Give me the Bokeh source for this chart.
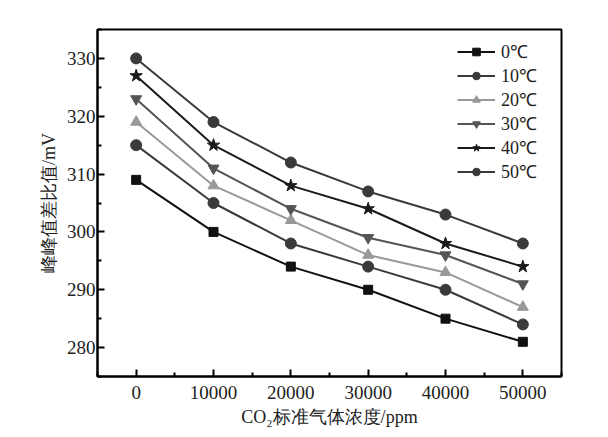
from bokeh.embed import file_html
from bokeh.models import Legend, Range1d, FixedTicker
from bokeh.plotting import figure
from bokeh.resources import INLINE

# CO2 concentration (ppm)
conc = [0, 10000, 20000, 30000, 40000, 50000]

# peak-to-peak ratio (mV) per temperature
t0 = [309, 300, 294, 290, 285, 281]
t10 = [315, 305, 298, 294, 290, 284]
t20 = [319, 308, 302, 296, 293, 287]
t30 = [323, 311, 304, 299, 296, 291]
t40 = [327, 315, 308, 304, 298, 294]
t50 = [330, 319, 312, 307, 303, 298]

labels = ["0℃", "10℃", "20℃", "30℃", "40℃", "50℃"]

serif = "Liberation Serif"

p = figure(width=600, height=429, output_backend="svg", toolbar_location=None,
           x_range=Range1d(-5000, 55000), y_range=Range1d(275, 335),
           min_border_left=97, min_border_right=39, min_border_top=29, min_border_bottom=52)

p.grid.visible = False
p.outline_line_color = "black"
p.outline_line_width = 2
p.background_fill_color = "white"
p.border_fill_color = "white"

p.xaxis.ticker = FixedTicker(ticks=conc, minor_ticks=[-5000, 5000, 15000, 25000, 35000, 45000, 55000])
p.yaxis.ticker = FixedTicker(ticks=[280, 290, 300, 310, 320, 330],
                             minor_ticks=[275, 285, 295, 305, 315, 325, 335])

for ax in (p.xaxis, p.yaxis):
    ax.axis_line_width = 2
    ax.major_tick_in = 7
    ax.major_tick_out = 0
    ax.minor_tick_in = 4
    ax.minor_tick_out = 0
    ax.major_tick_line_width = 2
    ax.minor_tick_line_width = 2
    ax.major_label_text_font = serif
    ax.major_label_text_font_size = "19px"
    ax.major_label_text_color = "#222222"
    ax.axis_label_text_font = serif
    ax.axis_label_text_font_size = "18px"
    ax.axis_label_text_font_style = "normal"
    ax.axis_label_text_color = "#222222"

p.xaxis.major_label_standoff = 9
p.yaxis.major_label_standoff = 2
p.xaxis.axis_label = "CO₂标准气体浓度/ppm"
p.yaxis.axis_label = "峰峰值差比值/mV"
p.xaxis.axis_label_standoff = 5
p.yaxis.axis_label_standoff = 5

series = [t0, t10, t20, t30, t40, t50]
colors = ["#111111", "#3a3a3a", "#999999", "#555555", "#1a1a1a", "#3a3a3a"]
markers = ["square", "circle", "triangle", "inverted_triangle", "star", "circle"]
sizes = [9, 11, 11, 11, 13, 11]

items = []
for ys, c, m, s, lab in zip(series, colors, markers, sizes, labels):
    ln = p.line(conc, ys, line_color=c, line_width=2)
    sc = p.scatter(conc, ys, marker=m, size=s, fill_color=c, line_color=c)
    items.append((lab, [ln, sc]))

legend = Legend(items=items, location="top_right")
legend.border_line_color = None
legend.background_fill_alpha = 0
legend.label_text_font = serif
legend.label_text_font_size = "18px"
legend.label_text_color = "#222222"
legend.glyph_width = 38
legend.glyph_height = 19
legend.label_height = 19
legend.label_width = 50
legend.spacing = 0
legend.padding = 2
legend.margin = 10
legend.label_standoff = 6
p.add_layout(legend)

open("out.html", "w").write(file_html(p, INLINE))
